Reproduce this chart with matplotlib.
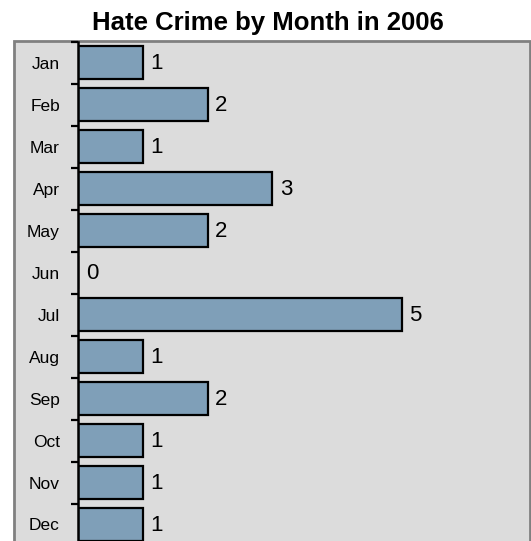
import matplotlib
matplotlib.use("Agg")
import matplotlib.pyplot as plt
from matplotlib.patches import Rectangle

months = ["Jan", "Feb", "Mar", "Apr", "May", "Jun", "Jul", "Aug", "Sep", "Oct", "Nov", "Dec"]
counts = [1, 2, 1, 3, 2, 0, 5, 1, 2, 1, 1, 1]
title = "Hate Crime by Month in 2006"

plt.rcParams['font.family'] = ['Liberation Sans', 'DejaVu Sans']

W, H = 531, 541
fig = plt.figure(figsize=(W / 100, H / 100), dpi=100)
fig.patch.set_facecolor("white")

bg = "#dcdcdc"
# outer panel
panel = Rectangle((13.5 / W, -0.05), (529.5 - 13.5) / W, 1.05 - 41.5 / H,
                  transform=fig.transFigure, facecolor=bg, edgecolor="#808080",
                  linewidth=2, zorder=-1)
fig.patches.append(panel)

ax_left, ax_right = 78 / W, 528.5 / W
ax_top, ax_bottom = 1 - 41.5 / H, 1 - 545.5 / H
ax = fig.add_axes([ax_left, ax_bottom, ax_right - ax_left, ax_top - ax_bottom])
ax.set_zorder(1)
ax.patch.set_alpha(0)

y = list(range(len(months)))
ax.barh(y, counts, height=0.78, color="#7f9fb8", edgecolor="black", linewidth=1.6, zorder=2)
ax.set_xlim(0, (528.5 - 78) / 64.75)
ax.set_ylim(len(months) - 0.5, -0.5)

for yi, v in zip(y, counts):
    ax.annotate(str(v), (v, yi), xytext=(5.5, -1), textcoords="offset points",
                va="center", ha="left", fontsize=16, color="black")

for s in ["top", "right", "bottom"]:
    ax.spines[s].set_visible(False)
ax.spines["left"].set_linewidth(1.8)
ax.spines["left"].set_color("black")

ax.set_xticks([])
ax.set_yticks(y)
ax.set_yticklabels(months, fontsize=12.5)
ax.tick_params(axis="y", which="major", length=0, pad=13)
ax.set_yticks([i - 0.5 for i in range(len(months) + 1)], minor=True)
ax.tick_params(axis="y", which="minor", length=5, width=1.6, color="black")

fig.text(0.5 * (90 + 445) / W, 1 - 23 / H, title, ha="center", va="center",
         fontsize=18.5, fontweight="bold")

fig.savefig("out.png", dpi=100)
